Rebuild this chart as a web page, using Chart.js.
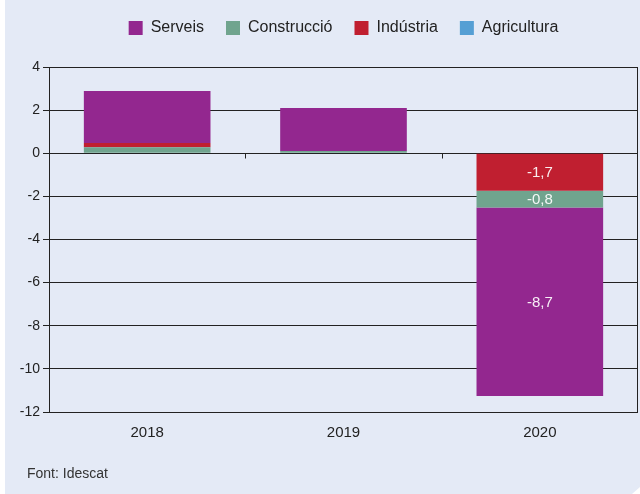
<!DOCTYPE html>
<html>
<head>
<meta charset="utf-8">
<script src="https://cdn.jsdelivr.net/npm/chart.js@4.4.1/dist/chart.umd.min.js"></script>
<style>
  html, body { margin: 0; padding: 0; background: #ffffff; }
  #frame {
    position: absolute; left: 5px; top: 0; width: 635px; height: 494px;
    background: #e4eaf6;
    clip-path: polygon(0 0, 100% 0, 100% 487px, 627px 100%, 0 100%);
  }
  #source {
    position: absolute; left: 22px; top: 465px;
    font: 14px/16px "Liberation Sans", Arial, sans-serif; color: #333333;
  }
</style>
</head>
<body>
<div id="frame">
  <canvas id="ValueAdded" width="635" height="494"></canvas>
  <div id="source">Font: Idescat</div>
</div>
<script>
// Years on the x axis
const YEARS = ["2018", "2019", "2020"];

// Contribution of each sector (percentage points)
const SERVEIS = [2.42, 2.0, -8.74];
const CONSTRUCCIO = [0.28, 0.1, -0.78];
const INDUSTRIA = [0.19, 0.0, -1.74];
const AGRICULTURA = [0.0, 0.0, 0.0];

// y axis ticks
const Y_MIN = -12;
const Y_MAX = 4;
const Y_STEP = 2;

// years that get value labels inside the bars
const LABEL_YEARS = ["2020"];

const FONT = "'Liberation Sans', Arial, sans-serif";
const INK = "#222222";

const positive = (arr) => arr.map((v) => (v >= 0 ? v : null));
const negative = (arr) => arr.map((v) => (v < 0 ? v : null));

// stacking order differs above and below zero, so Indústria is split in two
const DATASETS = [
  { label: "Indústria", data: negative(INDUSTRIA), backgroundColor: "#c01f30", legendRank: 2 },
  { label: "Construcció", data: CONSTRUCCIO, backgroundColor: "#70a48e", legendRank: 1 },
  { label: "Indústria", data: positive(INDUSTRIA), backgroundColor: "#c01f30", legendRank: 2, hideInLegend: true },
  { label: "Serveis", data: SERVEIS, backgroundColor: "#93278f", legendRank: 0 },
  { label: "Agricultura", data: AGRICULTURA, backgroundColor: "#559fd4", legendRank: 3 },
];

const fmt = (v) => v.toFixed(1).replace(".", ",");

// value labels, right border, zero-line ticks, and lift the legend a bit
const extras = {
  id: "extras",
  afterLayout(chart) {
    chart.legend.top -= 21;
    chart.legend.bottom -= 21;
  },
  afterDatasetsDraw(chart) {
    const ctx = chart.ctx;
    ctx.save();
    ctx.font = "15px " + FONT;
    ctx.fillStyle = "rgba(255,255,255,0.92)";
    ctx.textAlign = "center";
    ctx.textBaseline = "middle";
    chart.data.datasets.forEach((ds, i) => {
      const meta = chart.getDatasetMeta(i);
      meta.data.forEach((bar, j) => {
        const v = ds.data[j];
        if (v == null || v === 0 || !LABEL_YEARS.includes(YEARS[j])) return;
        const p = bar.getProps(["x", "y", "base"], true);
        ctx.fillText(fmt(v), p.x, (p.y + p.base) / 2 + 1);
      });
    });
    ctx.restore();
  },
  afterDraw(chart) {
    const ctx = chart.ctx;
    const area = chart.chartArea;
    const x = chart.scales.x;
    const y0 = Math.round(chart.scales.y.getPixelForValue(0)) + 0.5;
    ctx.save();
    ctx.strokeStyle = INK;
    ctx.lineWidth = 1;
    ctx.beginPath();
    ctx.moveTo(Math.round(area.right) - 0.5, area.top);
    ctx.lineTo(Math.round(area.right) - 0.5, area.bottom);
    for (let i = 0; i < YEARS.length - 1; i++) {
      const bx = Math.round((x.getPixelForValue(i) + x.getPixelForValue(i + 1)) / 2) + 0.5;
      ctx.moveTo(bx, y0);
      ctx.lineTo(bx, y0 + 5);
    }
    ctx.stroke();
    ctx.restore();
  },
};

new Chart(document.getElementById("ValueAdded"), {
  type: "bar",
  data: {
    labels: YEARS,
    datasets: DATASETS.map((d) => ({
      ...d,
      borderWidth: 0,
      barPercentage: 0.645,
      categoryPercentage: 1,
    })),
  },
  options: {
    responsive: false,
    animation: false,
    layout: { padding: { top: 19, left: 0, right: 2, bottom: 0 } },
    plugins: {
      legend: {
        position: "top",
        fullSize: false,
        labels: {
          boxWidth: 14,
          boxHeight: 14,
          padding: 22,
          color: INK,
          font: { family: FONT, size: 16 },
          filter: (item, data) => !data.datasets[item.datasetIndex].hideInLegend,
          sort: (a, b, data) =>
            data.datasets[a.datasetIndex].legendRank - data.datasets[b.datasetIndex].legendRank,
        },
      },
      tooltip: { enabled: false },
    },
    scales: {
      x: {
        stacked: true,
        grid: { display: false, drawTicks: false },
        border: { display: false },
        ticks: { color: INK, padding: 12, font: { family: FONT, size: 15 } },
        afterFit: (s) => { s.height = 82; },
      },
      y: {
        stacked: true,
        min: Y_MIN,
        max: Y_MAX,
        ticks: { stepSize: Y_STEP, color: INK, padding: 3, font: { family: FONT, size: 14 } },
        grid: { color: INK, lineWidth: 1, tickLength: 6 },
        border: { display: true, color: INK, width: 1 },
        afterFit: (s) => { s.width = 44; },
      },
    },
  },
  plugins: [extras],
});
</script>
</body>
</html>
